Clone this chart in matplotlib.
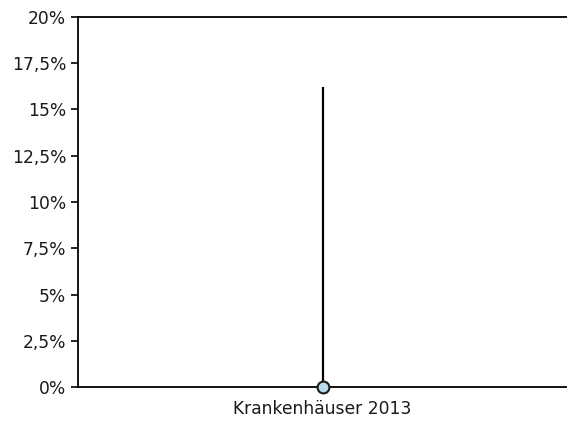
import numpy as np
import matplotlib
matplotlib.use("Agg")
import matplotlib.pyplot as plt

categories = ["Krankenhäuser 2013"]
values = [16.2]
yticks = [0, 2.5, 5, 7.5, 10, 12.5, 15, 17.5, 20]
ytick_labels = ["0%", "2,5%", "5%", "7,5%", "10%", "12,5%", "15%", "17,5%", "20%"]

fig = plt.figure(figsize=(5.67, 4.21), dpi=100)
ax = fig.add_axes([78/567, 1-387/421, 1-78/567, 370/421])

x = np.arange(len(categories))
ax.vlines(x, 0, values, color="black", linewidth=1.6, zorder=2)
ax.plot(x, [0]*len(x), "o", markersize=8.5, markerfacecolor="#b9dcec",
        markeredgecolor="#1a1a1a", markeredgewidth=1.5, zorder=4, clip_on=False)

ax.set_xlim(-0.5, 0.5)
ax.set_ylim(0, 20)
ax.set_yticks(yticks)
ax.set_yticklabels(ytick_labels, fontsize=12.3, color="#1a1a1a")
ax.set_xticks(x)
ax.set_xticklabels(categories, fontsize=12.3, color="#1a1a1a")
ax.tick_params(axis="x", length=0, pad=9)
ax.tick_params(axis="y", length=5, width=1.2, pad=3.5)

for s in ["left", "top", "bottom"]:
    ax.spines[s].set_linewidth(1.3)
ax.spines["right"].set_visible(False)

fig.savefig("out.png", dpi=100)
